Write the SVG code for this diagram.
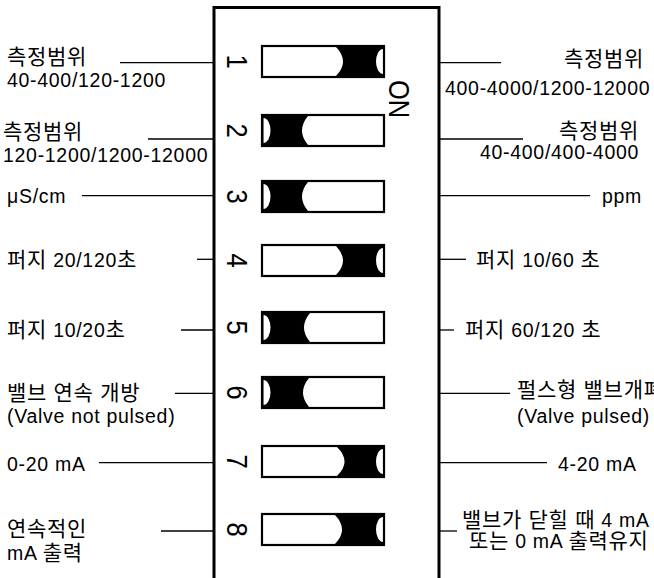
<svg xmlns="http://www.w3.org/2000/svg" width="654" height="578" viewBox="0 0 654 578">
<style>
.t{font-family:"Liberation Sans","Noto Sans CJK KR",sans-serif;font-size:19.5px;letter-spacing:0.7px;fill:#000}
.h{font-size:21px}
.n{font-family:"Liberation Sans",sans-serif;font-size:30px;fill:#000;text-anchor:middle}
.ld{stroke:#000;stroke-width:1.3;fill:none}
.sw{fill:none;stroke:#000;stroke-width:2.2}
.k{fill:#000}
.w{fill:#fff}
</style>
<rect width="654" height="578" fill="#fff"/>
<g id="body">
<path d="M214,580 V7.5 H439 V580" fill="none" stroke="#000" stroke-width="3"/>
<text class="n" transform="translate(389,99) rotate(90) scale(0.85,1)">ON</text>
</g>
<g id="connectors">
<line class="ld" x1="120" y1="62.7" x2="214" y2="62.7"/>
<line class="ld" x1="148" y1="139" x2="214" y2="139"/>
<line class="ld" x1="82" y1="195.7" x2="214" y2="195.7"/>
<line class="ld" x1="197" y1="259.3" x2="214" y2="259.3"/>
<line class="ld" x1="181" y1="330" x2="214" y2="330"/>
<line class="ld" x1="175" y1="393.3" x2="214" y2="393.3"/>
<line class="ld" x1="99" y1="462.7" x2="214" y2="462.7"/>
<line class="ld" x1="161" y1="531" x2="214" y2="531"/>
<line class="ld" x1="439" y1="62.7" x2="501" y2="62.7"/>
<line class="ld" x1="439" y1="139" x2="523" y2="139"/>
<line class="ld" x1="439" y1="195.7" x2="590" y2="195.7"/>
<line class="ld" x1="439" y1="259.3" x2="466" y2="259.3"/>
<line class="ld" x1="439" y1="330" x2="454" y2="330"/>
<line class="ld" x1="439" y1="393.3" x2="510" y2="393.3"/>
<line class="ld" x1="439" y1="462.7" x2="547" y2="462.7"/>
<line class="ld" x1="439" y1="531" x2="457" y2="531"/>
</g>
<g id="sw1">
<path class="k" d="M336,47 Q350,61.5 336,76 H384 V47 Z"/>
<path class="w" d="M383,49 A7,12.5 0 0 0 383,74 Z"/>
<rect class="sw" x="262" y="46" width="122" height="31"/>
<text class="n" transform="translate(227,61.5) rotate(90) scale(0.85,1)">1</text>
</g>
<g id="sw2">
<path class="k" d="M263,116 H308 Q296,130.5 308,145 H263 Z"/>
<path class="w" d="M263.5,118 A7,12.5 0 0 1 263.5,143 Z"/>
<rect class="sw" x="262" y="115" width="122" height="31"/>
<text class="n" transform="translate(227,130.5) rotate(90) scale(0.85,1)">2</text>
</g>
<g id="sw3">
<path class="k" d="M263,182 H308 Q296,196.5 308,211 H263 Z"/>
<path class="w" d="M263.5,184 A7,12.5 0 0 1 263.5,209 Z"/>
<rect class="sw" x="262" y="181" width="122" height="31"/>
<text class="n" transform="translate(227,196.5) rotate(90) scale(0.85,1)">3</text>
</g>
<g id="sw4">
<path class="k" d="M336,246 Q350,260.5 336,275 H384 V246 Z"/>
<path class="w" d="M383,248 A7,12.5 0 0 0 383,273 Z"/>
<rect class="sw" x="262" y="245" width="122" height="31"/>
<text class="n" transform="translate(227,260.5) rotate(90) scale(0.85,1)">4</text>
</g>
<g id="sw5">
<path class="k" d="M263,313 H310 Q298,327.5 310,342 H263 Z"/>
<path class="w" d="M263.5,315 A7,12.5 0 0 1 263.5,340 Z"/>
<rect class="sw" x="262" y="312" width="122" height="31"/>
<text class="n" transform="translate(227,327.5) rotate(90) scale(0.85,1)">5</text>
</g>
<g id="sw6">
<path class="k" d="M263,378 H309 Q297,392.5 309,407 H263 Z"/>
<path class="w" d="M263.5,380 A7,12.5 0 0 1 263.5,405 Z"/>
<rect class="sw" x="262" y="377" width="122" height="31"/>
<text class="n" transform="translate(227,392.5) rotate(90) scale(0.85,1)">6</text>
</g>
<g id="sw7">
<path class="k" d="M337,447 Q352,461.5 337,476 H384 V447 Z"/>
<path class="w" d="M383,449 A7,12.5 0 0 0 383,474 Z"/>
<rect class="sw" x="262" y="446" width="122" height="31"/>
<text class="n" transform="translate(227,461.5) rotate(90) scale(0.85,1)">7</text>
</g>
<g id="sw8">
<path class="k" d="M335,515 Q349,529.5 335,544 H384 V515 Z"/>
<path class="w" d="M383,517 A7,12.5 0 0 0 383,542 Z"/>
<rect class="sw" x="262" y="514" width="122" height="31"/>
<text class="n" transform="translate(227,529.5) rotate(90) scale(0.85,1)">8</text>
</g>
<g id="labels-left">
<text class="t h" x="7" y="63.5">측정범위</text>
<text class="t" x="7" y="86.5">40-400/120-1200</text>
<text class="t h" x="3" y="139">측정범위</text>
<text class="t" x="3" y="161.5">120-1200/1200-12000</text>
<text class="t" x="7" y="203">μS/cm</text>
<text class="t" x="7" y="267"><tspan class="h">퍼지</tspan> 20/120<tspan class="h">초</tspan></text>
<text class="t" x="7" y="336.5"><tspan class="h">퍼지</tspan> 10/20<tspan class="h">초</tspan></text>
<text class="t h" x="7" y="400">밸브 연속 개방</text>
<text class="t" x="7" y="423">(Valve not pulsed)</text>
<text class="t" x="7" y="471">0-20 mA</text>
<text class="t h" x="7" y="536">연속적인</text>
<text class="t" x="7" y="559.5">mA <tspan class="h">출력</tspan></text>
</g>
<g id="labels-right">
<text class="t h" x="644" y="65.5" text-anchor="end">측정범위</text>
<text class="t" x="445" y="95">400-4000/1200-12000</text>
<text class="t h" x="639" y="138" text-anchor="end">측정범위</text>
<text class="t" x="480" y="158.5">40-400/400-4000</text>
<text class="t" x="602" y="203">ppm</text>
<text class="t" x="476" y="267"><tspan class="h">퍼지</tspan> 10/60 <tspan class="h">초</tspan></text>
<text class="t" x="465" y="336.5"><tspan class="h">퍼지</tspan> 60/120 <tspan class="h">초</tspan></text>
<text class="t h" x="517" y="397">펄스형 밸브개폐</text>
<text class="t" x="517" y="423">(Valve pulsed)</text>
<text class="t" x="558" y="471">4-20 mA</text>
<text class="t" x="462" y="526.5"><tspan class="h">밸브가 닫힐 때</tspan> 4 mA</text>
<text class="t" x="469" y="548"><tspan class="h">또는</tspan> 0 mA <tspan class="h">출력유지</tspan></text>
</g>
</svg>
